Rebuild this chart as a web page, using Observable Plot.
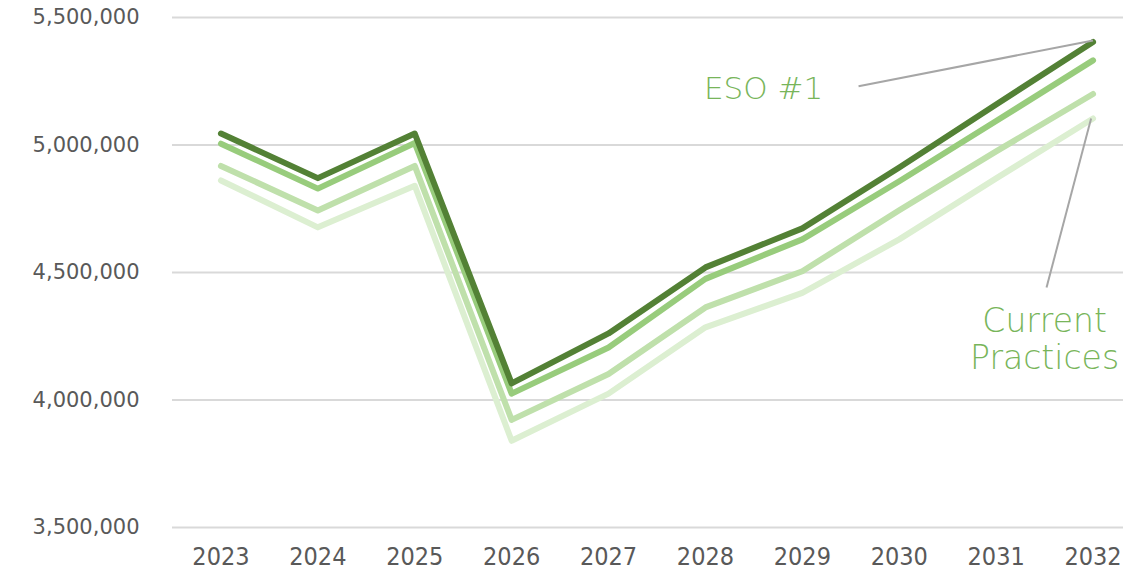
<!DOCTYPE html>
<html>
<head>
<meta charset="utf-8">
<script src="https://cdn.jsdelivr.net/npm/d3@7"></script>
<script src="https://cdn.jsdelivr.net/npm/@observablehq/plot@0.6"></script>
<style>
  html, body { margin: 0; padding: 0; background: #ffffff; }
  #chart { width: 1123px; height: 573px; overflow: hidden; }
</style>
</head>
<body>
<div id="chart"></div>
<script>
// ---- Data ----
const years = [2023, 2024, 2025, 2026, 2027, 2028, 2029, 2030, 2031, 2032];
const eso1      = [5045000, 4870000, 5045000, 4065000, 4261000, 4520000, 4673000, 4912000, 5159000, 5404000];
const scenario2 = [5005000, 4829000, 5008000, 4025000, 4206000, 4475000, 4630000, 4858000, 5094000, 5332000];
const scenario3 = [4918000, 4743000, 4918000, 3922000, 4102000, 4363000, 4505000, 4744000, 4975000, 5200000];
const current   = [4861000, 4677000, 4840000, 3840000, 4025000, 4285000, 4420000, 4630000, 4869000, 5104000];

const seriesNames  = ["Current Practices", "Scenario 3", "Scenario 2", "ESO #1"];
const seriesValues = [current, scenario3, scenario2, eso1];
const seriesColors = ["#dcefd1", "#bfe0ab", "#98cc7c", "#538135"];

const yTicks = [3500000, 4000000, 4500000, 5000000, 5500000];

// annotation labels (data coordinates) and their leader lines
const labelText  = ["ESO #1", "Current\nPractices"];
const labelYear  = [2028.6, 2031.5];
const labelValue = [5222000, 4240000];
const labelSize  = [31, 33];
const leaderFromYear  = [2029.58, 2031.52];
const leaderFromValue = [5230000, 4441000];
const leaderToYear    = [2032.0, 2031.98];
const leaderToValue   = [5410000, 5104000];

// ---- Build tables ----
const rows = [];
seriesNames.forEach((name, s) => {
  years.forEach((yr, i) => rows.push({series: name, year: yr, value: seriesValues[s][i]}));
});
const labels = labelText.map((t, i) => ({text: t, year: labelYear[i], value: labelValue[i], size: labelSize[i]}));
const leaders = leaderFromYear.map((_, i) => ({
  x1: leaderFromYear[i], y1: leaderFromValue[i], x2: leaderToYear[i], y2: leaderToValue[i]
}));

const chart = Plot.plot({
  width: 1123,
  height: 573,
  marginLeft: 172,
  marginRight: 0,
  marginTop: 17,
  marginBottom: 46,
  style: {background: "#ffffff", color: "#595959", overflow: "visible"},
  x: {type: "linear", domain: [2022.5, 2032.5], insetRight: -18},
  y: {domain: [3500000, 5500000]},
  color: {domain: seriesNames, range: seriesColors},
  marks: [
    Plot.ruleY(yTicks, {stroke: "#d9d9d9", strokeWidth: 2}),
    Plot.axisY({
      ticks: yTicks, tickSize: 0, tickPadding: 33, label: null,
      tickFormat: d3.format(","), fontSize: 21, fontFamily: "DejaVu Sans, Verdana, sans-serif", fill: "#595959"
    }),
    Plot.axisX({
      ticks: years, tickSize: 0, tickPadding: 20, label: null,
      tickFormat: d3.format("d"), fontSize: 25, fontFamily: "'DejaVu Sans Condensed', 'Liberation Sans Narrow', sans-serif", fill: "#595959"
    }),
    Plot.line(rows, {
      x: "year", y: "value", z: "series", stroke: "series",
      strokeWidth: 6, strokeLinecap: "round", strokeLinejoin: "round"
    }),
    Plot.link(leaders, {x1: "x1", y1: "y1", x2: "x2", y2: "y2", stroke: "#a6a6a6", strokeWidth: 2}),
    Plot.text(labels, {
      x: "year", y: "value", text: "text", fill: "#78b55a",
      fontSize: (d) => d.size, fontFamily: "'DejaVu Sans', sans-serif", fontWeight: 200,
      lineHeight: 1.1, textAnchor: "middle"
    })
  ]
});
document.getElementById("chart").appendChild(chart);
</script>
</body>
</html>
